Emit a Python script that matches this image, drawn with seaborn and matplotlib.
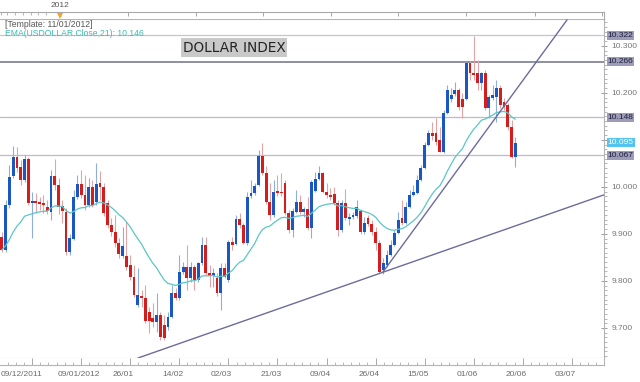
import numpy as np
import pandas as pd
import matplotlib
matplotlib.use("Agg")
import matplotlib.pyplot as plt
import matplotlib.transforms as mtransforms
from matplotlib.patches import Rectangle
from matplotlib.ticker import MultipleLocator, FixedLocator, FuncFormatter, NullFormatter
import seaborn as sns

# ---------------- data ----------------
opens = [9.894, 9.866, 9.962, 10.023, 10.064, 10.043, 10.015, 10.060, 9.966, 9.970,
         9.968, 9.966, 9.957, 9.947, 10.023, 10.004, 9.960, 9.947, 9.862, 9.889,
         9.979, 10.006, 9.983, 9.962, 10.000, 9.968, 10.009, 10.000, 9.966, 9.919,
         9.904, 9.881, 9.853, 9.853, 9.834, 9.809, 9.749, 9.768, 9.764, 9.734,
         9.721, 9.713, 9.728, 9.706, 9.702, 9.723, 9.774, 9.764, 9.819, 9.830,
         9.806, 9.830, 9.802, 9.838, 9.877, 9.817, 9.811, 9.806, 9.774, 9.828,
         9.802, 9.883, 9.879, 9.932, 9.919, 9.881, 9.981, 9.987, 10.004, 10.066,
         10.030, 9.968, 9.940, 9.991, 9.989, 10.009, 9.945, 9.909, 9.947, 9.968,
         9.947, 9.953, 9.913, 9.991, 10.017, 10.030, 9.989, 9.983, 9.985, 9.966,
         9.909, 9.966, 9.932, 9.936, 9.938, 9.949, 9.904, 9.934, 9.921, 9.904,
         9.881, 9.823, 9.834, 9.855, 9.877, 9.902, 9.934, 9.923, 9.957, 9.983,
         9.987, 10.015, 10.040, 10.089, 10.115, 10.115, 10.100, 10.074, 10.157, 10.187,
         10.198, 10.206, 10.187, 10.187, 10.264, 10.243, 10.243, 10.221, 10.243, 10.168,
         10.189, 10.191, 10.211, 10.181, 10.174, 10.128, 10.064]
highs = [9.904, 9.972, 10.047, 10.087, 10.085, 10.057, 10.068, 10.064, 9.989, 9.987,
         9.979, 9.983, 9.972, 10.036, 10.060, 10.019, 9.972, 9.955, 9.900, 9.994,
         10.026, 10.036, 10.026, 10.019, 10.015, 10.051, 10.034, 10.009, 9.972, 9.934,
         9.940, 9.891, 9.915, 9.926, 9.855, 9.834, 9.828, 9.781, 9.791, 9.745,
         9.753, 9.774, 9.734, 9.728, 9.734, 9.791, 9.785, 9.855, 9.840, 9.877,
         9.840, 9.834, 9.840, 9.894, 9.894, 9.834, 9.828, 9.817, 9.838, 9.838,
         9.887, 9.894, 9.940, 9.945, 9.923, 9.989, 10.015, 10.009, 10.079, 10.094,
         10.045, 10.009, 10.015, 10.026, 10.030, 10.015, 9.951, 9.955, 9.994, 9.983,
         9.957, 9.979, 10.015, 10.032, 10.045, 10.032, 10.009, 9.998, 10.000, 9.972,
         9.972, 9.996, 9.945, 9.947, 9.972, 9.953, 9.936, 9.940, 9.930, 9.915,
         9.887, 9.849, 9.866, 9.887, 9.909, 9.947, 9.972, 9.968, 9.994, 10.004,
         10.026, 10.047, 10.096, 10.121, 10.138, 10.147, 10.128, 10.164, 10.217, 10.211,
         10.223, 10.211, 10.200, 10.266, 10.268, 10.321, 10.270, 10.245, 10.249, 10.196,
         10.217, 10.228, 10.217, 10.189, 10.179, 10.143, 10.106]
lows = [9.862, 9.862, 9.955, 10.019, 10.032, 10.004, 10.011, 9.962, 9.891, 9.945,
        9.951, 9.945, 9.943, 9.930, 9.994, 9.943, 9.923, 9.855, 9.855, 9.887,
        9.974, 9.977, 9.951, 9.957, 9.957, 9.962, 9.972, 9.938, 9.913, 9.896,
        9.872, 9.849, 9.849, 9.823, 9.802, 9.766, 9.745, 9.745, 9.711, 9.689,
        9.702, 9.691, 9.674, 9.674, 9.696, 9.721, 9.760, 9.760, 9.815, 9.781,
        9.798, 9.781, 9.798, 9.834, 9.813, 9.787, 9.787, 9.768, 9.738, 9.806,
        9.798, 9.866, 9.877, 9.913, 9.879, 9.877, 9.977, 9.983, 10.002, 10.026,
        9.964, 9.930, 9.936, 9.981, 9.981, 9.940, 9.902, 9.894, 9.945, 9.943,
        9.936, 9.909, 9.891, 9.989, 10.015, 9.987, 9.977, 9.972, 9.962, 9.896,
        9.904, 9.930, 9.919, 9.932, 9.934, 9.900, 9.900, 9.917, 9.898, 9.866,
        9.817, 9.815, 9.830, 9.853, 9.874, 9.900, 9.919, 9.921, 9.955, 9.981,
        9.985, 10.013, 10.038, 10.087, 10.100, 10.089, 10.074, 10.072, 10.155, 10.181,
        10.194, 10.164, 10.147, 10.185, 10.228, 10.228, 10.206, 10.206, 10.164, 10.147,
        10.185, 10.138, 10.168, 10.164, 10.121, 10.062, 10.043]
closes = [9.866, 9.962, 10.021, 10.064, 10.040, 10.015, 10.060, 9.966, 9.970, 9.966,
          9.964, 9.962, 9.949, 10.023, 10.004, 9.957, 9.949, 9.862, 9.891, 9.979,
          10.006, 9.983, 9.962, 10.000, 9.962, 10.006, 10.000, 9.945, 9.919, 9.904,
          9.881, 9.857, 9.874, 9.830, 9.809, 9.770, 9.770, 9.764, 9.715, 9.715,
          9.713, 9.728, 9.681, 9.679, 9.723, 9.774, 9.764, 9.819, 9.830, 9.806,
          9.830, 9.802, 9.838, 9.877, 9.817, 9.811, 9.817, 9.774, 9.828, 9.809,
          9.883, 9.877, 9.932, 9.919, 9.881, 9.979, 9.987, 10.002, 10.066, 10.030,
          9.968, 9.940, 9.989, 9.987, 9.987, 9.945, 9.909, 9.949, 9.968, 9.947,
          9.953, 9.913, 10.011, 10.017, 10.030, 9.989, 9.983, 9.979, 9.966, 9.909,
          9.966, 9.934, 9.936, 9.940, 9.957, 9.904, 9.923, 9.921, 9.904, 9.881,
          9.819, 9.838, 9.855, 9.877, 9.902, 9.930, 9.923, 9.957, 9.983, 9.989,
          10.015, 10.040, 10.089, 10.115, 10.109, 10.096, 10.074, 10.157, 10.206, 10.196,
          10.206, 10.170, 10.170, 10.264, 10.243, 10.238, 10.221, 10.243, 10.168, 10.191,
          10.196, 10.211, 10.174, 10.170, 10.128, 10.064, 10.094]

x_tick_bars = [8, 21, 34, 47, 60, 73, 86, 99, 112, 125, 138, 151]
x_tick_labels = ["09/12/2011", "09/01/2012", "26/01", "14/02", "02/03", "21/03",
                 "09/04", "26/04", "15/05", "01/06", "20/06", "03/07"]

level_values = [10.322, 10.266, 10.148, 10.067]
last_price = 10.095
ema_span = 21
ema_legend_value = 10.146

trend_low_bars = [36.06, 159.5]
trend_low_prices = [9.636, 9.983]
trend_up_bars = [100.96, 149.7]
trend_up_prices = [9.819, 10.355]

# ---------------- styling ----------------
sns.set_theme(style="white")
plt.rcParams['font.family'] = ['Liberation Sans', 'DejaVu Sans']

RED, BLUE = '#d41e1e', '#1b57c2'
RED_W, BLUE_W = '#e2a4a4', '#8eaee0'
EMA_C = '#5cc6c6'
TREND_C = '#6c6c9c'
GRID_C = '#b4b4b4'

W, H = 640.0, 382.0


def rect(x0, y0, x1, y1):
    return [x0 / W, 1 - y1 / H, (x1 - x0) / W, (y1 - y0) / H]


fig = plt.figure(figsize=(6.4, 3.82), dpi=100)
fig.patch.set_facecolor('white')

ax = fig.add_axes(rect(0, 19, 604, 358))
ax_bot = fig.add_axes(rect(0, 358, 604, 365))
ax_top = fig.add_axes(rect(0, 11.5, 604, 19))

df = pd.DataFrame({'bar': np.arange(len(closes)), 'open': opens, 'high': highs,
                   'low': lows, 'close': closes})
df['ema'] = df['close'].ewm(span=ema_span, adjust=False).mean()
up = df['close'] >= df['open']

# horizontal levels
lvl_styles = {10.322: ('#c6c6d0', 0.9), 10.266: ('#8e8ea4', 1.4),
              10.148: ('#bcbcc8', 0.9), 10.067: ('#bcbcc8', 0.9)}
for v in level_values:
    c, lw = lvl_styles[v]
    ax.axhline(v, color=c, lw=lw, zorder=1)

# candles
ax.vlines(df['bar'], df['low'], df['high'], colors=np.where(up, BLUE_W, RED_W),
          lw=0.8, zorder=3)
body_bottom = np.minimum(df['open'], df['close'])
body_h = np.maximum((df['close'] - df['open']).abs(), 0.0022)
ax.bar(df['bar'], body_h, bottom=body_bottom, width=0.76,
       color=np.where(up, BLUE, RED), lw=0, zorder=4)

# EMA
sns.lineplot(x=df['bar'], y=df['ema'], ax=ax, color=EMA_C, lw=0.9, zorder=5)

# trend lines
ax.plot(trend_low_bars, trend_low_prices, color=TREND_C, lw=1.0, zorder=6)
ax.plot(trend_up_bars, trend_up_prices, color=TREND_C, lw=1.0, zorder=6)

ax.set_xlim(-0.5, 159.5)
ax.set_ylim(9.636, 10.357)
ax.set_xlabel('')
ax.set_ylabel('')


def price_fmt(v, pos):
    # the 10.100 label sits under the last-price box in the reference
    if abs(v - 10.1) < 1e-6:
        return ''
    return f'{v:.3f}'


ax.yaxis.tick_right()
ax.yaxis.set_major_locator(MultipleLocator(0.1))
ax.yaxis.set_minor_locator(MultipleLocator(0.01))
ax.yaxis.set_major_formatter(FuncFormatter(price_fmt))
ax.tick_params(axis='y', which='major', right=True, left=False, labelright=True,
               labelleft=False, direction='inout', length=5, width=0.6,
               color='#8a8a8a', labelsize=6, labelcolor='#777777', pad=3)
ax.tick_params(axis='y', which='minor', right=True, left=False, direction='out',
               length=2.2, width=0.5, color='#9a9a9a')
ax.tick_params(axis='x', which='both', bottom=False, labelbottom=False)
ax.spines['left'].set_visible(False)
for s in ['top', 'right', 'bottom']:
    ax.spines[s].set_color(GRID_C)
    ax.spines[s].set_linewidth(0.8)

# value boxes on the right
blend = mtransforms.blended_transform_factory(ax.transAxes, ax.transData)
for v in level_values:
    ax.text(1.006, v, f'{v:.3f}', transform=blend, ha='left', va='center',
            fontsize=6, color='#1e1e3a', zorder=10, clip_on=False,
            bbox=dict(boxstyle='square,pad=0.12', fc='#9c9cb9', ec='none'))
ax.text(1.006, last_price, f'{last_price:.3f}', transform=blend, ha='left',
        va='center', fontsize=6, color='white', zorder=10, clip_on=False,
        bbox=dict(boxstyle='square,pad=0.12', fc='#55c3ef', ec='none'))

# bottom date strip
ax_bot.set_xlim(-0.5, 159.5)
ax_bot.set_ylim(0, 1)
ax_bot.set_yticks([])
ax_bot.xaxis.set_major_locator(FixedLocator(x_tick_bars))
ax_bot.xaxis.set_minor_locator(FixedLocator(np.arange(8 - 13, 160, 13 / 6.0)))
ax_bot.xaxis.set_major_formatter(NullFormatter())
ax_bot.tick_params(axis='x', which='major', bottom=True, direction='in',
                   length=5, width=0.6, color='#9a9a9a')
ax_bot.tick_params(axis='x', which='minor', bottom=True, direction='in',
                   length=2, width=0.5, color='#9a9a9a')
ax_bot.spines['left'].set_visible(False)
ax_bot.spines['top'].set_visible(False)
for s in ['right', 'bottom']:
    ax_bot.spines[s].set_color(GRID_C)
    ax_bot.spines[s].set_linewidth(0.8)
bblend = mtransforms.blended_transform_factory(ax_bot.transData, ax_bot.transAxes)
label_shift = {"09/12/2011": -2.9, "09/01/2012": -0.7}
for b, lab in zip(x_tick_bars, x_tick_labels):
    ax_bot.text(b + label_shift.get(lab, -1.8), -0.85, lab, transform=bblend,
                ha='center', va='top', fontsize=6, color='#6a6a6a')

# top navigator strip
ax_top.set_xlim(0, 604)
ax_top.set_ylim(0, 1)
ax_top.set_yticks([])
ax_top.xaxis.tick_top()
ax_top.xaxis.set_major_locator(FixedLocator([128, 196, 263, 331, 398, 466, 535, 602]))
ax_top.xaxis.set_minor_locator(FixedLocator([0.5, 7.3, 15, 22.7, 30.7, 38.3, 46]))
ax_top.xaxis.set_major_formatter(NullFormatter())
ax_top.tick_params(axis='x', which='major', top=True, bottom=False, direction='in',
                   length=3, width=0.6, color='#9a9a9a', labeltop=False)
ax_top.tick_params(axis='x', which='minor', top=True, bottom=False, direction='in',
                   length=2, width=0.5, color='#9a9a9a')
ax_top.spines['left'].set_visible(False)
ax_top.spines['bottom'].set_visible(False)
for s in ['top', 'right']:
    ax_top.spines[s].set_color('#a8a8a8')
    ax_top.spines[s].set_linewidth(0.8)
ax_top.plot([60], [0.45], marker='v', color='#f3a22a', ms=4.5, mew=0, clip_on=False)
ax_top.vlines([60], 0.45, 1.0, color='#f3a22a', lw=1.0)
fig.text(60 / W, 1 - 5.5 / H, '2012', ha='center', va='center', fontsize=6,
         color='#555555')

# legend texts
fig.text(5 / W, 1 - 24.5 / H, '[Template: 11/01/2012]', ha='left', va='center',
         fontsize=6.2, color='#555555')
fig.text(5 / W, 1 - 33 / H, f'EMA(USDOLLAR.Close,{ema_span}): {ema_legend_value:.3f}',
         ha='left', va='center', fontsize=6.2, color='#3dbab2')

# title box
fig.patches.append(Rectangle((181 / W, 1 - 57 / H), 106 / W, 19 / H,
                             transform=fig.transFigure, fc='#c9c9c9', ec='none',
                             zorder=8))
fig.text(234 / W, 1 - 47.5 / H, 'DOLLAR INDEX', ha='center', va='center',
         fontsize=9.8, color='#222222', family=['DejaVu Sans'], zorder=9)

fig.savefig('out.png', dpi=100, facecolor='white')
